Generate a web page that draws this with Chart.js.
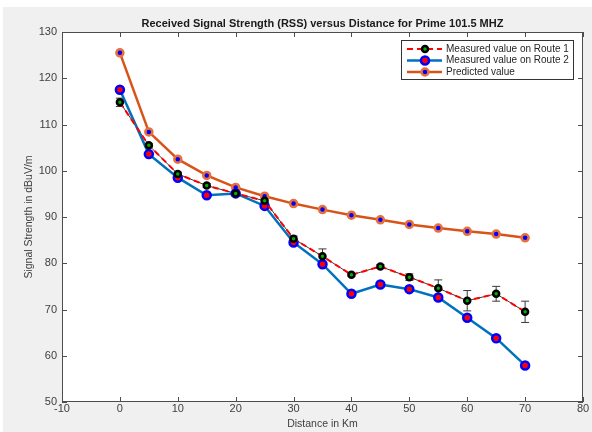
<!DOCTYPE html>
<html>
<head>
<meta charset="utf-8">
<script src="https://cdn.jsdelivr.net/npm/chart.js@4.4.1/dist/chart.umd.min.js"></script>
<style>
    html, body { margin: 0; padding: 0; background: #ffffff; }
    #wrap { width: 592px; height: 432px; }
</style>
</head>
<body>
<div id="wrap"><canvas id="chart1" width="592" height="432"></canvas></div>
<script>
// 데이터
const distance = [0, 5, 10, 15, 20, 25, 30, 35, 40, 45, 50, 55, 60, 65, 70];
const route1 = [114.8, 105.5, 99.3, 96.8, 95.1, 93.5, 85.3, 81.5, 77.5, 79.3, 77.0, 74.6, 71.9, 73.4, 69.5];
const route1Err = [0.9, 0.4, 0.4, 0.4, 0.3, 0.4, 0.6, 1.6, 0.3, 0.4, 0.7, 1.8, 2.2, 1.6, 2.3];
const route2 = [117.5, 103.6, 98.5, 94.7, 95.1, 92.4, 84.5, 79.8, 73.4, 75.4, 74.4, 72.6, 68.2, 63.8, 57.9];
const predicted = [125.5, 108.4, 102.5, 99.0, 96.4, 94.5, 92.9, 91.6, 90.4, 89.4, 88.4, 87.6, 86.9, 86.3, 85.5];
const xTicks = [-10, 0, 10, 20, 30, 40, 50, 60, 70, 80];
const yTicks = [50, 60, 70, 80, 90, 100, 110, 120, 130];

const titleText = "Received Signal Strength (RSS) versus Distance for Prime 101.5 MHZ";
const xTitle = "Distance in Km";
const yTitle = "Signal Strength in dBuV/m";

const toPoints = (ys) => distance.map((x, i) => ({ x: x, y: ys[i] }));

// 배경, 에러바, 박스, 눈금, 범례
const matlabLook = {
    id: "matlabLook",
    beforeDraw(chart) {
        const { ctx, chartArea: a } = chart;
        ctx.save();
        ctx.fillStyle = "#f0f0f0";
        ctx.fillRect(3, 7, chart.width - 3, chart.height - 7);
        ctx.fillStyle = "#ffffff";
        ctx.fillRect(a.left, a.top, a.right - a.left, a.bottom - a.top);
        ctx.restore();
    },
    beforeDatasetsDraw(chart) {
        const { ctx } = chart;
        const xs = chart.scales.x, ys = chart.scales.y;
        ctx.save();
        // 에러바 선 (얇은 검은 선)
        ctx.strokeStyle = "#3a3a3a";
        ctx.lineWidth = 1;
        ctx.beginPath();
        distance.forEach((d, i) => {
            const px = xs.getPixelForValue(d), py = ys.getPixelForValue(route1[i]);
            if (i === 0) ctx.moveTo(px, py); else ctx.lineTo(px, py);
        });
        ctx.stroke();
        distance.forEach((d, i) => {
            const px = xs.getPixelForValue(d);
            const top = ys.getPixelForValue(route1[i] + route1Err[i]);
            const bot = ys.getPixelForValue(route1[i] - route1Err[i]);
            ctx.beginPath();
            ctx.moveTo(px, top); ctx.lineTo(px, bot);
            ctx.moveTo(px - 4, top); ctx.lineTo(px + 4, top);
            ctx.moveTo(px - 4, bot); ctx.lineTo(px + 4, bot);
            ctx.stroke();
        });
        ctx.restore();
    },
    afterDraw(chart) {
        const { ctx, chartArea: a } = chart;
        const xs = chart.scales.x, ys = chart.scales.y;
        ctx.save();
        ctx.strokeStyle = "#4d4d4d";
        ctx.lineWidth = 1;
        ctx.strokeRect(a.left + 0.5, a.top + 0.5, a.right - a.left - 1, a.bottom - a.top - 1);
        ctx.beginPath();
        xTicks.forEach((t) => {
            const px = Math.round(xs.getPixelForValue(t)) + 0.5;
            ctx.moveTo(px, a.bottom); ctx.lineTo(px, a.bottom - 5);
            ctx.moveTo(px, a.top); ctx.lineTo(px, a.top + 5);
        });
        yTicks.forEach((t) => {
            const py = Math.round(ys.getPixelForValue(t)) + 0.5;
            ctx.moveTo(a.left, py); ctx.lineTo(a.left + 5, py);
            ctx.moveTo(a.right, py); ctx.lineTo(a.right - 5, py);
        });
        ctx.stroke();

        // 제목
        ctx.fillStyle = "#1a1a1a";
        ctx.font = "bold 11px 'Liberation Sans', Arial";
        ctx.textAlign = "center";
        ctx.textBaseline = "middle";
        ctx.fillText(titleText, (a.left + a.right) / 2, 24);
        ctx.font = "10.5px 'Liberation Sans', Arial";
        ctx.fillStyle = "#404040";
        ctx.fillText(xTitle, (a.left + a.right) / 2, 424);
        ctx.save();
        ctx.translate(29, (a.top + a.bottom) / 2);
        ctx.rotate(-Math.PI / 2);
        ctx.fillText(yTitle, 0, 0);
        ctx.restore();

        // 범례
        const lx = 401, ly = 40, lw = 172, lh = 39;
        ctx.fillStyle = "#ffffff";
        ctx.fillRect(lx, ly, lw, lh);
        ctx.strokeStyle = "#333333";
        ctx.strokeRect(lx + 0.5, ly + 0.5, lw, lh);
        const rows = [49, 60.5, 72];
        chart.data.datasets.forEach((ds, i) => {
            const y = rows[i];
            ctx.save();
            ctx.strokeStyle = ds.borderColor;
            ctx.lineWidth = ds.borderWidth;
            ctx.setLineDash(ds.borderDash || []);
            ctx.beginPath();
            ctx.moveTo(407, y); ctx.lineTo(442, y);
            ctx.stroke();
            ctx.setLineDash([]);
            ctx.beginPath();
            ctx.arc(425, y, ds.pointRadius, 0, Math.PI * 2);
            ctx.fillStyle = ds.pointBackgroundColor;
            ctx.fill();
            ctx.lineWidth = ds.pointBorderWidth;
            ctx.strokeStyle = ds.pointBorderColor;
            ctx.stroke();
            ctx.restore();
            ctx.fillStyle = "#262626";
            ctx.textAlign = "left";
            ctx.font = "10px 'Liberation Sans', Arial";
            ctx.fillText(ds.label, 446, y);
        });
        ctx.restore();
    },
};

const ctx1 = document.getElementById("chart1").getContext("2d");
const chart1 = new Chart(ctx1, {
    type: "line",
    data: {
        datasets: [
            {
                label: "Measured value on Route 1",
                data: toPoints(route1),
                borderColor: "#ff0000",
                borderWidth: 2,
                borderDash: [6, 4],
                pointRadius: 3,
                pointBorderWidth: 2.5,
                pointBorderColor: "#000000",
                pointBackgroundColor: "#00b000",
            },
            {
                label: "Measured value on Route 2",
                data: toPoints(route2),
                borderColor: "#0072bd",
                borderWidth: 2.5,
                pointRadius: 4,
                pointBorderWidth: 2.5,
                pointBorderColor: "#0000ff",
                pointBackgroundColor: "#ff0000",
            },
            {
                label: "Predicted value",
                data: toPoints(predicted),
                borderColor: "#d95319",
                borderWidth: 2.5,
                pointRadius: 3.5,
                pointBorderWidth: 2.5,
                pointBorderColor: "#e8703a",
                pointBackgroundColor: "#0000ff",
            },
        ],
    },
    options: {
        responsive: false,
        animation: false,
        maintainAspectRatio: false,
        layout: { padding: { top: 32, right: 9, left: 0, bottom: 0 } },
        plugins: {
            legend: { display: false },
            tooltip: { enabled: false },
        },
        scales: {
            x: {
                type: "linear",
                min: -10,
                max: 80,
                afterBuildTicks: (s) => { s.ticks = xTicks.map((v) => ({ value: v })); },
                afterFit: (s) => { s.height = 30; },
                grid: { display: false, drawTicks: false, tickLength: 0 },
                border: { display: false },
                ticks: {
                    padding: 0,
                    color: "#404040",
                    font: { family: "'Liberation Sans', Arial", size: 11 },
                },
            },
            y: {
                min: 50,
                max: 130,
                afterBuildTicks: (s) => { s.ticks = yTicks.map((v) => ({ value: v })); },
                afterFit: (s) => { s.width = 62; },
                grid: { display: false, drawTicks: false, tickLength: 0 },
                border: { display: false },
                ticks: {
                    padding: 5,
                    color: "#404040",
                    font: { family: "'Liberation Sans', Arial", size: 11 },
                },
            },
        },
    },
    plugins: [matlabLook],
});
</script>
</body>
</html>
